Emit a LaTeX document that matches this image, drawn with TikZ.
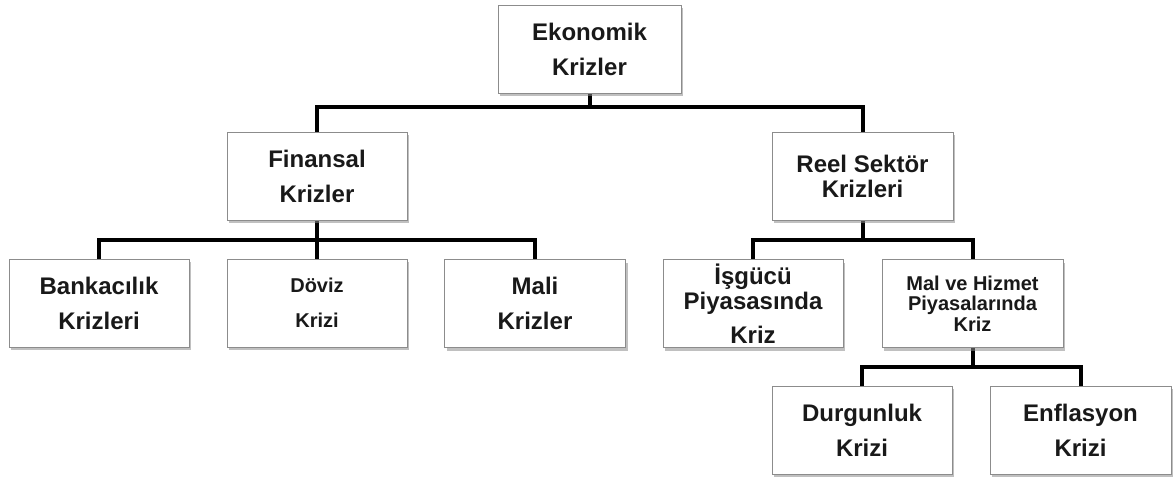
\documentclass[tikz,border=0pt]{standalone}
\usepackage{fontspec}
\setmainfont{Liberation Sans}
\usetikzlibrary{shadows,backgrounds}
\begin{document}
\begin{tikzpicture}[x=1pt,y=-1pt,
  box/.style={draw=black!45, line width=0.8pt, fill=white, minimum width=180pt,
    minimum height=88pt, inner sep=0pt, align=center, text=black!90,
    font=\bfseries\fontsize{24}{35}\selectfont,
    drop shadow={shadow xshift=2pt, shadow yshift=-3pt, fill=black!45, opacity=0.55}},
  conn/.style={line width=4pt, line join=miter, line cap=butt, draw=black}]
\useasboundingbox (0,0) rectangle (1175,481);

\node[box, minimum width=183pt] (eko) at (589.5,49) {Ekonomik\\Krizler};
\node[box] (fin) at (317,176) {Finansal\\Krizler};
\node[box, minimum width=181pt, font=\bfseries\fontsize{24}{25}\selectfont] (reel) at (862.5,176) {Reel Sektör\\Krizleri};
\node[box] (bank) at (99,303) {Bankacılık\\Krizleri};
\node[box, font=\bfseries\fontsize{20}{35}\selectfont] (dov) at (317,303) {Döviz\\Krizi};
\node[box, minimum width=181pt] (mali) at (535,303.5) {Mali\\Krizler};
\node[box] (isg) at (753,303.5) {İşgücü\\[-10pt]Piyasasında\\[-1pt]Kriz};
\node[box, minimum width=181pt, font=\bfseries\fontsize{20}{20.5}\selectfont] (mal) at (972.5,303.5) {Mal ve Hizmet\\Piyasalarında\\Kriz};
\node[box] (dur) at (862,430) {Durgunluk\\Krizi};
\node[box, minimum width=181pt] (enf) at (1080.5,430) {Enflasyon\\Krizi};

\begin{scope}[on background layer]
\coordinate (b1) at (589.5,107);
\coordinate (b2) at (317,240);
\coordinate (b3) at (862.5,240);
\coordinate (b4) at (972.5,367);
\draw[conn] (eko.south) -- (b1);
\draw[conn] (fin.north) |- (b1) -| (reel.north);
\draw[conn] (fin.south) -- (b2);
\draw[conn] (bank.north) |- (b2) -| (mali.north);
\draw[conn] (dov.north) -- (b2);
\draw[conn] (reel.south) -- (b3);
\draw[conn] (isg.north) |- (b3) -| (mal.north);
\draw[conn] (mal.south) -- (b4);
\draw[conn] (dur.north) |- (b4) -| (enf.north);
\end{scope}
\end{tikzpicture}
\end{document}
